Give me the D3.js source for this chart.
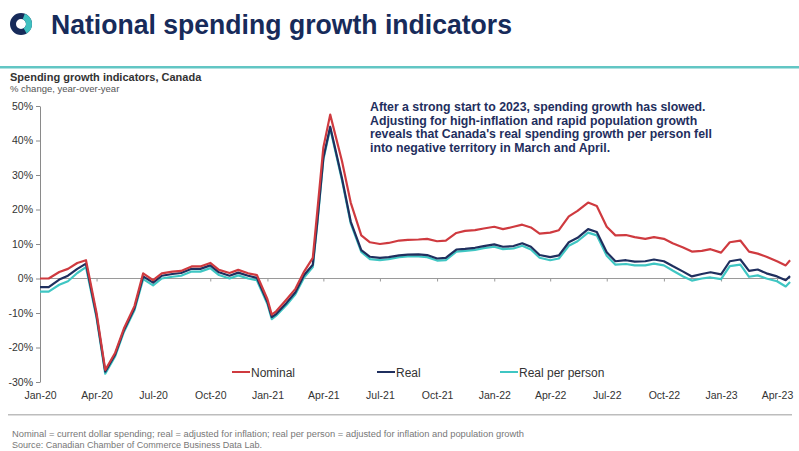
<!DOCTYPE html>
<html>
<head>
<meta charset="utf-8">
<script src="https://cdn.jsdelivr.net/npm/d3@7"></script>
<style>
  html, body { margin: 0; padding: 0; background: #ffffff; }
  svg { display: block; font-family: "Liberation Sans", Arial, sans-serif; }
</style>
</head>
<body>
<svg id="chart" width="799" height="451"></svg>
<script>
// ---------------- DATA ----------------
const dates = [
  "2020-01-01","2020-01-15","2020-02-01","2020-02-15","2020-03-01","2020-03-15","2020-04-01","2020-04-15",
  "2020-05-01","2020-05-15","2020-06-01","2020-06-15","2020-07-01","2020-07-15","2020-08-01","2020-08-15",
  "2020-09-01","2020-09-15","2020-10-01","2020-10-15","2020-11-01","2020-11-15","2020-12-01","2020-12-15",
  "2021-01-01","2021-01-08","2021-01-15","2021-02-01","2021-02-15","2021-03-01","2021-03-15","2021-03-22",
  "2021-04-01","2021-04-12","2021-05-01","2021-05-15","2021-06-01","2021-06-15","2021-07-01","2021-07-15",
  "2021-08-01","2021-08-15","2021-09-01","2021-09-15","2021-10-01","2021-10-15","2021-11-01","2021-11-15",
  "2021-12-01","2021-12-15","2022-01-01","2022-01-15","2022-02-01","2022-02-15","2022-03-01","2022-03-15",
  "2022-04-01","2022-04-15","2022-05-01","2022-05-15","2022-06-01","2022-06-15","2022-07-01","2022-07-15",
  "2022-08-01","2022-08-15","2022-09-01","2022-09-15","2022-10-01","2022-10-15","2022-11-01","2022-11-15",
  "2022-12-01","2022-12-15","2023-01-01","2023-01-15","2023-02-01","2023-02-15","2023-03-01","2023-03-15",
  "2023-04-01","2023-04-15","2023-04-22"
];
const nominal = [
  0, 0, 1.9, 2.8, 4.5, 5.3, -10, -26.5,
  -21.5, -14.5, -8, 1.5, -0.5, 1.5, 2, 2.2,
  3.5, 3.5, 4.5, 2.5, 1.6, 2.5, 1.5, 1.0,
  -6, -10.5, -9.5, -6, -3, 2, 6, 19,
  38, 47.5, 34, 22, 12.5, 10.5, 10, 10.3,
  11, 11.2, 11.3, 11.5, 10.8, 11, 13.2, 13.8,
  14, 14.5, 15, 14.3, 15, 15.6, 14.8, 13,
  13.3, 14, 18, 19.6, 22, 21, 15, 12.5,
  12.6, 12, 11.5, 12, 11.5, 10.2, 9, 7.8,
  8, 8.5, 7.5, 10.5, 11, 7.8, 7.2, 6.3,
  5, 3.8, 5.3
];
const real = [
  -2.5, -2.5, -0.3, 0.8, 2.8, 4.3, -10.8, -27,
  -22, -15, -8.6, 0.6, -1.2, 0.8, 1.3, 1.6,
  2.8, 2.8, 3.8, 1.8, 0.8, 1.7, 0.8, 0.2,
  -6.8, -11.2, -10.3, -7, -4, 1, 4, 16,
  35, 44, 29, 16.5, 8.2, 6.3, 6, 6.2,
  6.7, 6.9, 7, 6.8, 5.8, 6, 8.4, 8.6,
  8.9, 9.4, 9.9, 9.2, 9.4, 10.2, 9.2, 6.8,
  6.2, 6.7, 10.5, 11.8, 14.3, 13.5, 7.6, 5,
  5.3, 4.9, 5, 5.5, 5, 3.6, 2, 0.6,
  1.3, 1.8, 1.2, 5, 5.5, 2.2, 2.6, 1.5,
  0.6, -0.5, 0.7
];
const realPerPerson = [
  -3.8, -3.8, -1.8, -0.8, 1.6, 3.3, -11.4, -27.6,
  -22.5, -15.5, -9.2, -0.2, -2, 0, 0.5, 0.8,
  2, 2, 3, 1, 0, 0.9, 0, -0.5,
  -7.4, -11.8, -10.8, -7.6, -4.6, 0.3, 3.3, 15.5,
  34.5, 43.5, 28.5, 16, 7.7, 5.6, 5.3, 5.6,
  6.2, 6.4, 6.4, 6.2, 5.2, 5.3, 7.8, 8,
  8.3, 8.8, 9.2, 8.5, 8.7, 9.5, 8.4, 6,
  5.3, 5.8, 9.5, 10.8, 13.3, 12.5, 6.6, 4,
  4.2, 3.8, 3.8, 4.3, 3.8, 2.3, 0.6, -0.6,
  0, 0.3, -0.2, 3.6, 4, 0.5, 0.9, 0,
  -0.8, -2.3, -1
];
const seriesNames = ["Nominal", "Real", "Real per person"];
const yTicks = [-30, -20, -10, 0, 10, 20, 30, 40, 50];
const xTickDates = ["2020-01-01","2020-04-01","2020-07-01","2020-10-01","2021-01-01","2021-04-01","2021-07-01",
  "2021-10-01","2022-01-01","2022-04-01","2022-07-01","2022-10-01","2023-01-01","2023-04-01"];
const xTickLabels = ["Jan-20","Apr-20","Jul-20","Oct-20","Jan-21","Apr-21","Jul-21","Oct-21","Jan-22","Apr-22",
  "Jul-22","Oct-22","Jan-23","Apr-23"];
const annotation = [
  "After a strong start to 2023, spending growth has slowed.",
  "Adjusting for high-inflation and rapid population growth",
  "reveals that Canada's real spending growth per person fell",
  "into negative territory in March and April."
];

// ---------------- DRAW ----------------
const svg = d3.select("#chart");
const parse = d3.timeParse("%Y-%m-%d");
const colors = { "Nominal": "#cf3a3f", "Real": "#1f2f5e", "Real per person": "#3fc6c3" };
const navy = "#172b5a";

const x = d3.scaleTime().domain([parse("2020-01-01"), parse("2023-04-01")]).range([40, 777]);
const y = d3.scaleLinear().domain([-30, 50]).range([382, 106]);

// Header logo
const logo = svg.append("g").attr("transform", "translate(21,24)");
const arcGen = d3.arc().innerRadius(5).outerRadius(11);
logo.append("path").attr("d", arcGen({startAngle: 0, endAngle: 2 * Math.PI})).attr("fill", navy);
logo.append("path").attr("d", arcGen({startAngle: 0.35, endAngle: 2.6})).attr("fill", "#3fc0c0");

svg.append("text").attr("x", 51).attr("y", 34)
  .attr("font-size", 27).attr("font-weight", "bold").attr("fill", navy)
  .attr("textLength", 461).attr("lengthAdjust", "spacingAndGlyphs")
  .text("National spending growth indicators");

svg.append("rect").attr("x", 0).attr("y", 66).attr("width", 799).attr("height", 2.5).attr("fill", "#62c6c4");

svg.append("text").attr("x", 10).attr("y", 81).attr("font-size", 11).attr("font-weight", "bold")
  .attr("fill", "#333").text("Spending growth indicators, Canada");
svg.append("text").attr("x", 10).attr("y", 92).attr("font-size", 9.5)
  .attr("fill", "#555").text("% change, year-over-year");

// Y axis
const yAxis = svg.append("g").attr("transform", "translate(40,0)")
  .call(d3.axisLeft(y).tickValues(yTicks).tickFormat(d => d + "%").tickSize(4).tickSizeOuter(0));
yAxis.select(".domain").attr("stroke", "#8a8a8a");
yAxis.selectAll(".tick line").attr("stroke", "#8a8a8a");
yAxis.selectAll(".tick text").attr("font-size", 10.5).attr("fill", "#333")
  .attr("font-family", "'Liberation Sans', Arial, sans-serif").attr("x", -7);

// Zero line with quarter ticks
const zeroAxis = svg.append("g").attr("transform", `translate(0,${y(0)})`)
  .call(d3.axisBottom(x).tickValues(xTickDates.map(parse)).tickFormat("").tickSize(3).tickSizeOuter(0));
zeroAxis.select(".domain").attr("stroke", "#9a9a9a").attr("d", `M40,0H790`);
zeroAxis.selectAll(".tick line").attr("stroke", "#9a9a9a");

// X labels at bottom
const xLab = svg.append("g").attr("transform", `translate(0,${y(-30)})`)
  .call(d3.axisBottom(x).tickValues(xTickDates.map(parse))
    .tickFormat((d, i) => xTickLabels[i]).tickSize(0).tickPadding(10));
xLab.select(".domain").remove();
xLab.selectAll(".tick text").attr("font-size", 10.5).attr("fill", "#333")
  .attr("font-family", "'Liberation Sans', Arial, sans-serif");

// Lines
const series = [
  { name: "Real per person", values: realPerPerson },
  { name: "Real", values: real },
  { name: "Nominal", values: nominal }
];
const line = d3.line().x((d, i) => x(parse(dates[i]))).y(d => y(d));
svg.append("g").selectAll("path").data(series).join("path")
  .attr("d", s => line(s.values))
  .attr("fill", "none")
  .attr("stroke", s => colors[s.name])
  .attr("stroke-width", 2.2)
  .attr("stroke-linejoin", "round");

// Annotation
svg.append("g").selectAll("text").data(annotation).join("text")
  .attr("x", 370).attr("y", (d, i) => 111 + i * 13.5)
  .attr("font-size", 12.3).attr("font-weight", "bold").attr("fill", "#1f2f5e")
  .text(d => d);

// Legend
const legendX = [232, 377, 500];
const leg = svg.append("g").selectAll("g").data(seriesNames).join("g")
  .attr("transform", (d, i) => `translate(${legendX[i]},372)`);
leg.append("line").attr("x1", 0).attr("x2", 18).attr("y1", 0).attr("y2", 0)
  .attr("stroke", d => colors[d]).attr("stroke-width", 2);
leg.append("text").attr("x", 19).attr("y", 4.5).attr("font-size", 12).attr("fill", "#333").text(d => d);

// Bottom rule + footnotes
svg.append("rect").attr("x", 8).attr("y", 414).attr("width", 784).attr("height", 1.5).attr("fill", "#bdbdbd");
svg.append("text").attr("x", 12).attr("y", 437).attr("font-size", 8.5).attr("fill", "#777")
  .attr("textLength", 512).attr("lengthAdjust", "spacingAndGlyphs")
  .text("Nominal = current dollar spending; real = adjusted for inflation; real per person = adjusted for inflation and population growth");
svg.append("text").attr("x", 12).attr("y", 447.5).attr("font-size", 8.5).attr("fill", "#777")
  .attr("textLength", 250).attr("lengthAdjust", "spacingAndGlyphs")
  .text("Source: Canadian Chamber of Commerce Business Data Lab.");
</script>
</body>
</html>
